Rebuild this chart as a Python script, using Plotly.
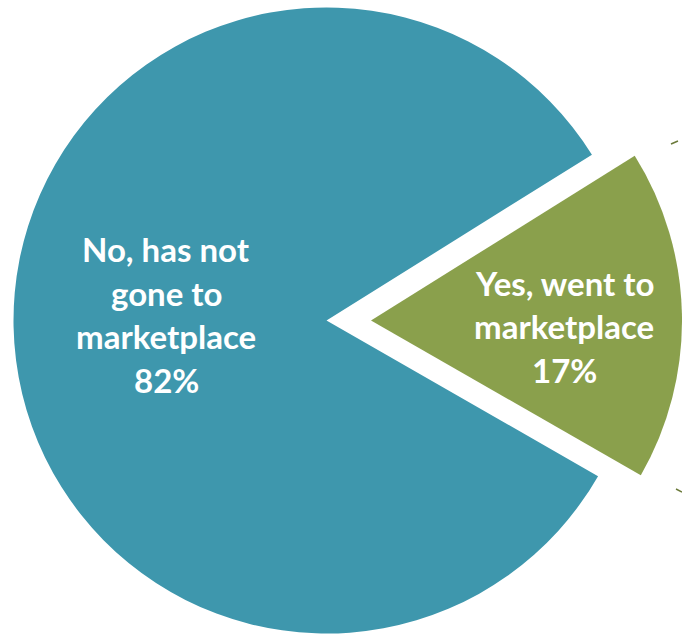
import plotly.graph_objects as go

# Survey result: has the respondent gone to the marketplace?
labels = ["Yes, went to marketplace", "No, has not gone to marketplace"]
label_lines = [["Yes, went to", "marketplace"], ["No, has not", "gone to", "marketplace"]]
values = [17, 82]  # percent of respondents
colors = ["#8AA04C", "#3E97AD"]

W, H = 682, 635
ROTATION = 58  # first slice (Yes) starts here, clockwise from 12 o'clock

def box(cx, cy, r):
    """Pie domain (paper fractions) for a pie centred at (cx, cy) px, radius r px."""
    return dict(
        x=[max(0.0, (cx - r) / W), min(1.0, (cx + r) / W)],
        y=[max(0.0, (H - cy - r) / H), min(1.0, (H - cy + r) / H)],
    )

fig = go.Figure()

# Main pie: only the "No" slice is painted
fig.add_trace(go.Pie(
    labels=labels, values=values, sort=False, direction="clockwise",
    rotation=ROTATION, textinfo="none", hoverinfo="label+value",
    marker=dict(colors=["rgba(0,0,0,0)", colors[1]], line=dict(width=0)),
    domain=box(326.5, 320.5, 313), showlegend=False,
))

# Exploded "Yes" slice, shifted out to the right
fig.add_trace(go.Pie(
    labels=labels, values=values, sort=False, direction="clockwise",
    rotation=ROTATION, textinfo="none", hoverinfo="label+value",
    marker=dict(colors=[colors[0], "rgba(0,0,0,0)"], line=dict(width=0)),
    domain=box(371, 320.5, 311), showlegend=False,
))

font = dict(family="Lato", size=33, color="white", weight="bold")
LINE = 43.7

def add_label(lines, pct, cx, cy_first):
    rows = lines + [f"{pct}%"]
    for i, row in enumerate(rows):
        fig.add_annotation(
            text=row, x=cx / W, y=1 - (cy_first + i * LINE) / H,
            xref="paper", yref="paper", xanchor="center", yanchor="middle",
            showarrow=False, font=font,
        )

add_label(label_lines[1], values[1], 166, 249)
add_label(label_lines[0], values[0], 564, 282.5)

# small olive tick marks at the right edge
for x0, y0, x1, y1 in [(671, 144, 678, 141), (676, 489, 682, 492)]:
    fig.add_shape(type="line", xref="paper", yref="paper",
                  x0=x0 / W, y0=1 - y0 / H, x1=x1 / W, y1=1 - y1 / H,
                  line=dict(color="#6B7A3A", width=1.5))

fig.update_layout(
    width=W, height=H, margin=dict(l=0, r=0, t=0, b=0),
    paper_bgcolor="white", plot_bgcolor="white",
)

fig.write_html("out.html")
